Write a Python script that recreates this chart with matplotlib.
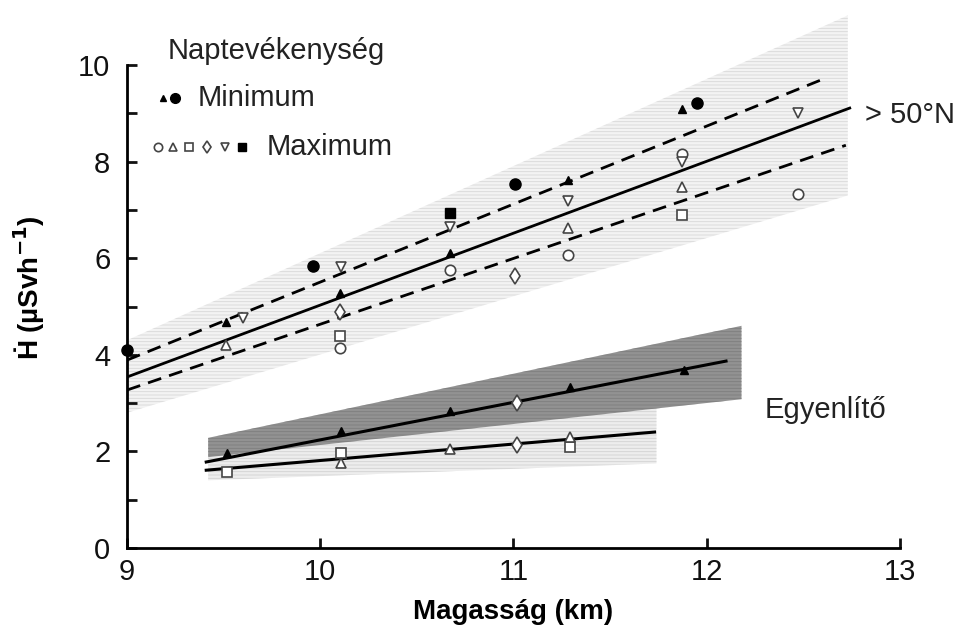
import matplotlib
matplotlib.use('Agg')
import matplotlib.pyplot as plt
import numpy as np

plt.rcParams['font.family'] = ['Liberation Sans', 'DejaVu Sans']
plt.rcParams['hatch.linewidth'] = 0.6

# altitude (km) / dose rate (uSv/h)
# > 50 N, solar minimum
n_min_tri_x = [9.51, 10.10, 10.67, 11.28, 11.87]
n_min_tri_y = [4.68, 5.28, 6.10, 7.62, 9.09]
n_min_circ_x = [9.00, 9.96, 11.01, 11.95]
n_min_circ_y = [4.10, 5.84, 7.54, 9.21]
# > 50 N, solar maximum
n_max_circ_x = [10.10, 10.67, 11.28, 11.87, 12.47]
n_max_circ_y = [4.14, 5.76, 6.07, 8.16, 7.33]
n_max_tri_x = [9.51, 11.28, 11.87]
n_max_tri_y = [4.20, 6.63, 7.47]
n_max_sq_x = [10.10, 11.87]
n_max_sq_y = [4.39, 6.89]
n_max_dia_x = [10.10, 11.01]
n_max_dia_y = [4.89, 5.63]
n_max_tdn_x = [9.60, 10.11, 10.67, 11.28, 11.87, 12.47]
n_max_tdn_y = [4.76, 5.82, 6.65, 7.18, 7.99, 9.00]
n_max_fsq_x = [10.67]
n_max_fsq_y = [6.94]

# equator
e_min_tri_x = [9.52, 10.11, 10.67, 11.29, 11.88]
e_min_tri_y = [1.97, 2.42, 2.84, 3.33, 3.68]
e_max_sq_x = [9.52, 10.11, 11.29]
e_max_sq_y = [1.57, 1.97, 2.09]
e_max_tri_x = [10.11, 10.67, 11.29]
e_max_tri_y = [1.76, 2.05, 2.30]
e_max_dia_x = [11.02, 11.02]
e_max_dia_y = [3.00, 2.13]

# fitted lines (start, end)
fit_n_x = [9.0, 12.74]
fit_n_y = [3.54, 9.11]
fit_n_hi_x = [9.0, 12.59]
fit_n_hi_y = [3.89, 9.69]
fit_n_lo_x = [9.0, 12.72]
fit_n_lo_y = [3.27, 8.34]
fit_e_min_x = [9.41, 12.10]
fit_e_min_y = [1.78, 3.87]
fit_e_max_x = [9.41, 11.73]
fit_e_max_y = [1.61, 2.40]

# scatter bands (polygon corners)
band_n_x = [9.0, 12.73, 12.73, 9.0]
band_n_y = [4.30, 11.03, 7.30, 2.80]
band_e_dark_x = [9.42, 12.18, 12.18, 9.42]
band_e_dark_y = [2.28, 4.60, 3.08, 1.88]
band_e_light_x = [9.42, 11.74, 11.74, 9.42]
band_e_light_y = [1.88, 2.89, 1.75, 1.40]


def main():
    fig = plt.figure(figsize=(9.65, 6.32), dpi=100)
    ax = fig.add_axes([0.1316, 0.133, 0.801, 0.764])

    ax.fill(band_n_x, band_n_y, facecolor='#f3f3f3', edgecolor='#d8d8d8',
            hatch='-----', linewidth=0, clip_on=False, zorder=1)
    ax.fill(band_e_light_x, band_e_light_y, facecolor='#ededed', edgecolor='#d2d2d2',
            hatch='-----', linewidth=0, zorder=1)
    ax.fill(band_e_dark_x, band_e_dark_y, facecolor='#929292', edgecolor='#7e7e7e',
            hatch='-----', linewidth=0, zorder=1)

    ax.plot(fit_n_x, fit_n_y, color='black', lw=2.0, zorder=3)
    ax.plot(fit_n_hi_x, fit_n_hi_y, color='black', lw=2.0, ls=(0, (5, 3)), zorder=3)
    ax.plot(fit_n_lo_x, fit_n_lo_y, color='black', lw=2.0, ls=(0, (5, 3)), zorder=3)
    ax.plot(fit_e_min_x, fit_e_min_y, color='black', lw=2.2, zorder=3)
    ax.plot(fit_e_max_x, fit_e_max_y, color='black', lw=2.2, zorder=3)

    filled = dict(ls='none', color='black', zorder=4, clip_on=False)
    hollow = dict(ls='none', mfc='white', mec='#444444', mew=1.2, zorder=4, clip_on=False)

    ax.plot(n_min_tri_x, n_min_tri_y, marker='^', ms=6, **filled)
    ax.plot(n_min_circ_x, n_min_circ_y, marker='o', ms=8, **filled)
    ax.plot(n_max_fsq_x, n_max_fsq_y, marker='s', ms=7, **filled)
    ax.plot(n_max_circ_x, n_max_circ_y, marker='o', ms=7.5, **hollow)
    ax.plot(n_max_tri_x, n_max_tri_y, marker='^', ms=7, **hollow)
    ax.plot(n_max_sq_x, n_max_sq_y, marker='s', ms=7, **hollow)
    ax.plot(n_max_dia_x, n_max_dia_y, marker='d', ms=8, **hollow)
    ax.plot(n_max_tdn_x, n_max_tdn_y, marker='v', ms=7, **hollow)

    ax.plot(e_min_tri_x, e_min_tri_y, marker='^', ms=6, **filled)
    ax.plot(e_max_sq_x, e_max_sq_y, marker='s', ms=7, **hollow)
    ax.plot(e_max_tri_x, e_max_tri_y, marker='^', ms=7, **hollow)
    ax.plot(e_max_dia_x, e_max_dia_y, marker='d', ms=8, **hollow)

    ax.set_xlim(9, 13)
    ax.set_ylim(0, 10)
    ax.set_xticks([9, 10, 11, 12, 13])
    ax.set_yticks(np.arange(0, 11, 1))
    ax.set_yticklabels([str(v) if v % 2 == 0 else '' for v in range(11)])
    ax.tick_params(direction='in', length=7, width=2, labelsize=21, colors='#111111')
    ax.tick_params(axis='y', pad=12)
    ax.tick_params(axis='x', pad=7)
    for side in ['top', 'right']:
        ax.spines[side].set_visible(False)
    for side in ['left', 'bottom']:
        ax.spines[side].set_linewidth(2)

    ax.set_xlabel('Magasság (km)', fontsize=20, fontweight='bold')
    ax.xaxis.set_label_coords(0.5, -0.105)
    ax.set_ylabel('Ḣ (µSvh$^{\\mathbf{-1}}$)', fontsize=20, fontweight='bold')
    ax.yaxis.set_label_coords(-0.104, 0.54)

    ax.text(12.82, 8.96, '> 50°N', fontsize=21, va='center', ha='left', color='#222222')
    ax.text(12.3, 2.86, 'Egyenlítő', fontsize=21, va='center', ha='left', color='#222222')

    # legend
    ax.text(0.053, 1.029, 'Naptevékenység', transform=ax.transAxes, fontsize=21,
            va='center', ha='left', color='#222222')
    ax.plot([0.046], [0.932], marker='^', ms=5, transform=ax.transAxes, **filled)
    ax.plot([0.062], [0.932], marker='o', ms=7, transform=ax.transAxes, **filled)
    ax.text(0.092, 0.932, 'Minimum', transform=ax.transAxes, fontsize=21,
            va='center', ha='left', color='#222222')
    leg_x = [0.040, 0.059, 0.080, 0.103, 0.127, 0.149]
    leg_m = ['o', '^', 's', 'd', 'v', 's']
    for i in range(len(leg_x)):
        style = filled if i == len(leg_x) - 1 else hollow
        ax.plot([leg_x[i]], [0.830], marker=leg_m[i], ms=6, transform=ax.transAxes, **style)
    ax.text(0.181, 0.830, 'Maximum', transform=ax.transAxes, fontsize=21,
            va='center', ha='left', color='#222222')

    fig.savefig('out.png', dpi=100)


if __name__ == '__main__':
    main()
